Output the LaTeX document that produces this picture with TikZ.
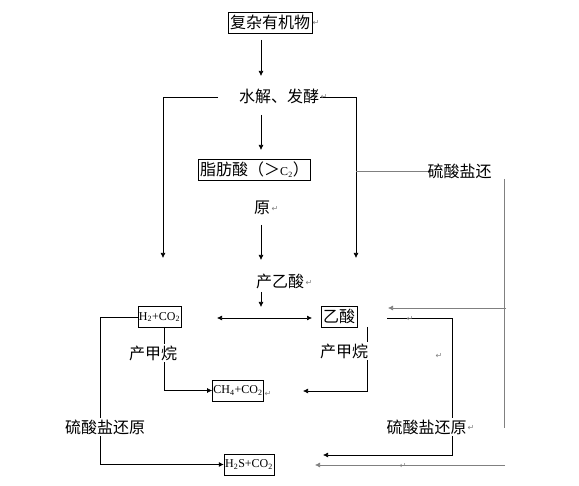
\documentclass[tikz,border=0pt]{standalone}
\usepackage{fontspec}
\setmainfont{Noto Sans CJK SC}
\newfontfamily\latinfont{Liberation Serif}
\newfontfamily\symfont{DejaVu Sans}
\usetikzlibrary{arrows.meta,positioning,calc}
\definecolor{linegray}{RGB}{128,128,128}

\begin{document}
\begin{tikzpicture}[x=1pt, y=-1pt, >={Latex[length=5pt,width=5pt]},
  font=\fontsize{16}{16}\selectfont,
  box/.style={draw, line width=0.7pt, inner xsep=2pt, inner ysep=0pt, minimum height=21pt},
  chem/.style={box, font=\latinfont\fontsize{12}{12}\selectfont, inner xsep=1pt},
  lbl/.style={inner sep=1.5pt, fill=white},
  pmark/.style={inner sep=0pt, text=linegray, font=\symfont\fontsize{8}{8}\selectfont},
  flow/.style={line width=0.7pt},
  side/.style={line width=0.6pt, draw=linegray}]
  \useasboundingbox (0,0) rectangle (579,486);

  % substances
  \node[box] (src) at (270,22.5) {复杂有机物};
  \node[inner sep=0pt] (hyd) at (279,96) {水解、发酵};
  \node[box] (fat) at (254.5,170) {脂肪酸（＞{\latinfont\fontsize{12}{12}\selectfont C\textsubscript{2}}）};
  \node[inner sep=0pt] (yuan) at (262,208) {原};
  \node[inner sep=0pt] (ace) at (280,281) {产乙酸};
  \node[chem] (h2) at (159.5,317) {H\textsubscript{2}+CO\textsubscript{2}};
  \node[box] (hac) at (339,316.5) {乙酸};
  \node[chem] (ch4) at (238,390.5) {CH\textsubscript{4}+CO\textsubscript{2}};
  \node[chem] (h2s) at (249,464.5) {H\textsubscript{2}S+CO\textsubscript{2}};

  % free ends
  \coordinate (hl) at (218,97);
  \coordinate (hr) at (320,97);
  \coordinate (tl) at (163,258);
  \coordinate (tr) at (356,258);
  \coordinate (dl) at (217,318);
  \coordinate (dr) at (312,318);
  \coordinate (c4r) at (303,391);
  \coordinate (rs) at (387,318);
  \coordinate (rsend) at (323,455);
  \coordinate (gtop) at (504,179);
  \coordinate (gbot) at (504,428);
  \coordinate (g1) at (506,308);
  \coordinate (g1end) at (388,308);
  \coordinate (g2) at (505,465);
  \coordinate (g2end) at (315,465);

  % main flow
  \draw[flow, ->] (261,40) -- (261,76);
  \draw[flow, ->] (hl) -- (163,97) -- (tl);
  \draw[flow, ->] (hr) -- (356,97) -- (tr);
  \draw[flow, ->] (261,115) -- (261,150);
  \draw[flow, ->] (261,225) -- (261,260);
  \draw[flow, ->] (261,292) -- (261,307);
  \draw[flow, <->] (dl) -- (dr);

  % methane and sulfate reduction loops
  \draw[flow, ->] (h2.west) -- (100,317) |- (h2s.west);
  \draw[flow, ->] (164,327) |- (ch4.west);
  \draw[flow, ->] (367,327) -- (367,391) -- (c4r);
  \draw[flow, ->] (rs) -- (452,318) -- (452,455) -- (rsend);

  % grey sulfate lines
  \draw[side] (356,171) -- (433,171);
  \draw[side] (gtop) -- (gbot);
  \draw[side, ->] (g1) -- (g1end);
  \draw[side, ->] (g2) -- (g2end);

  % process labels
  \node[lbl] (ml) at (153,353) {产甲烷};
  \node[lbl] (mr) at (344,351) {产甲烷};
  \node[lbl] (sl) at (105,427) {硫酸盐还原};
  \node[lbl] (sr) at (426.5,427) {硫酸盐还原};
  \node[inner sep=0pt] (st) at (459.5,171) {硫酸盐还};

  % paragraph marks
  \node[pmark] (p1) at (316,23) {↵};
  \node[pmark] (p2) at (324,97) {↵};
  \node[pmark] (p3) at (275,209) {↵};
  \node[pmark] (p4) at (309,283) {↵};
  \node[pmark] (p5) at (268,394) {↵};
  \node[pmark] (p6) at (410,319) {↵};
  \node[pmark] (p7) at (439,356) {↵};
  \node[pmark] (p8) at (471,428) {↵};
  \node[pmark] (p9) at (403,466) {↵};
\end{tikzpicture}
\end{document}
